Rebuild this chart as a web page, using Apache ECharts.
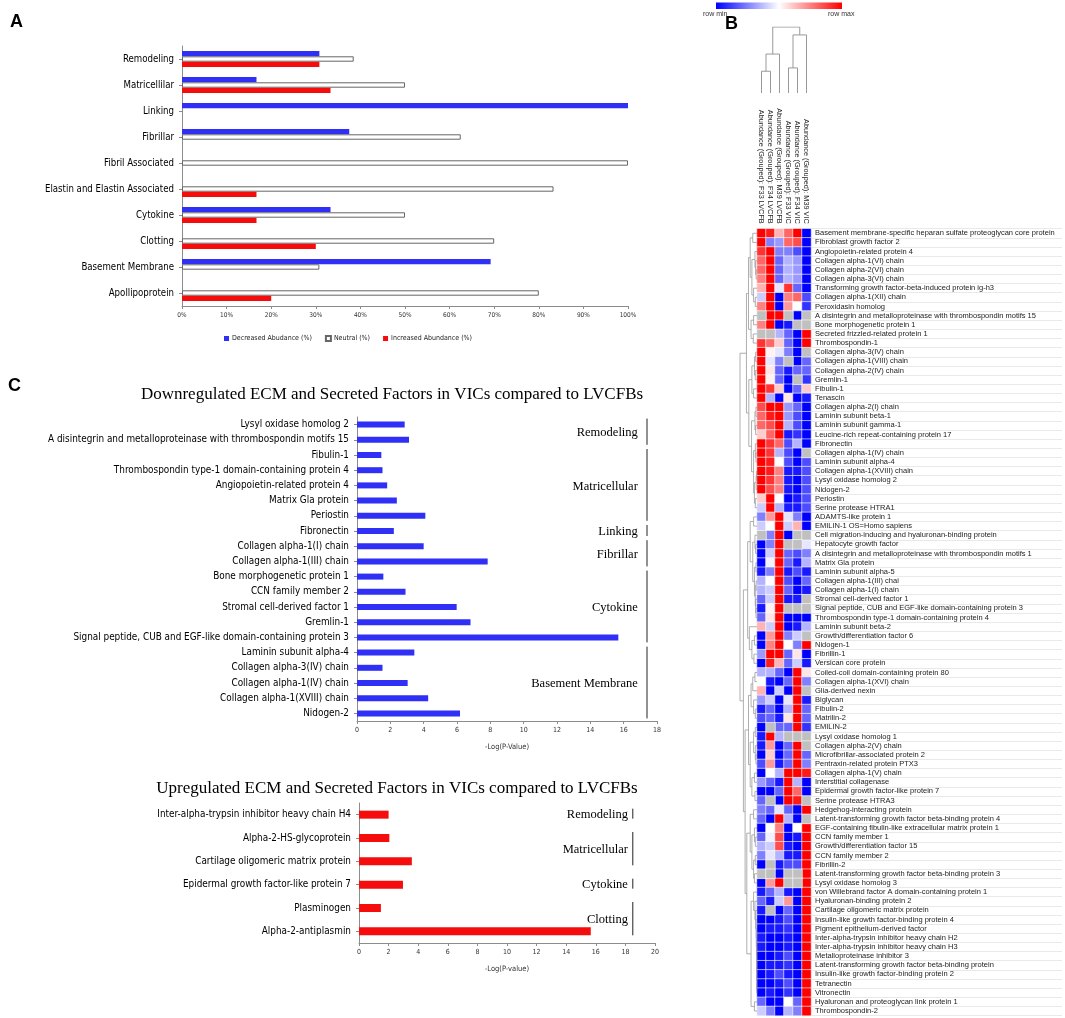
<!DOCTYPE html>
<html><head><meta charset="utf-8">
<script src="https://cdn.jsdelivr.net/npm/echarts/dist/echarts.min.js"></script>
<style>html,body{margin:0;padding:0;background:#fff}#c{width:1065px;height:1018px}</style>
</head><body><div id="c"></div>
<script>
// ---------- Panel A data ----------
const catA = ['Remodeling','Matricellilar','Linking','Fibrillar','Fibril Associated','Elastin and Elastin Associated','Cytokine','Clotting','Basement Membrane','Apollipoprotein'];
const decA = [30.8, 16.7, 100, 37.5, 0, 0, 33.3, 0, 69.2, 0];
const neuA = [38.5, 50, 0, 62.5, 100, 83.3, 50, 70, 30.8, 80];
const incA = [30.8, 33.3, 0, 0, 0, 16.7, 16.7, 30, 0, 20];
const legendA = ['Decreased Abudance (%)','Neutral (%)','Increased Abundance (%)'];

// ---------- Panel C data ----------
const downNames = ['Lysyl oxidase homolog 2','A disintegrin and metalloproteinase with thrombospondin motifs 15','Fibulin-1','Thrombospondin type-1 domain-containing protein 4','Angiopoietin-related protein 4','Matrix Gla protein','Periostin','Fibronectin','Collagen alpha-1(I) chain','Collagen alpha-1(III) chain','Bone morphogenetic protein 1','CCN family member 2','Stromal cell-derived factor 1','Gremlin-1','Signal peptide, CUB and EGF-like domain-containing protein 3','Laminin subunit alpha-4','Collagen alpha-3(IV) chain','Collagen alpha-1(IV) chain','Collagen alpha-1(XVIII) chain','Nidogen-2'];
const downVals = [2.86, 3.12, 1.46, 1.53, 1.81, 2.39, 4.10, 2.21, 4.00, 7.84, 1.58, 2.91, 5.98, 6.81, 15.68, 3.44, 1.53, 3.04, 4.27, 6.18];
const downGroups = ['Remodeling','Matricellular','Linking','Fibrillar','Cytokine','Basement Membrane'];
const downGroupFirst = [0, 2, 7, 8, 10, 15];
const downGroupLast = [1, 6, 7, 9, 14, 19];
const upNames = ['Inter-alpha-trypsin inhibitor heavy chain H4','Alpha-2-HS-glycoprotein','Cartilage oligomeric matrix protein','Epidermal growth factor-like protein 7','Plasminogen','Alpha-2-antiplasmin'];
const upVals = [2.0, 2.05, 3.57, 2.97, 1.48, 15.66];
const upGroups = ['Remodeling','Matricellular','Cytokine','Clotting'];
const upGroupFirst = [0, 1, 3, 4];
const upGroupLast = [0, 2, 3, 5];
const titleDown = 'Downregulated ECM and Secreted Factors in VICs compared to LVCFBs';
const titleUp = 'Upregulated ECM and Secreted Factors in VICs compared to LVCFBs';

// ---------- Panel B data ----------
const hmCols = ['Abundance (Grouped): F33 LVCFB','Abundance (Grouped): F34 LVCFB','Abundance (Grouped): M39 LVCFB','Abundance (Grouped): F33 VIC','Abundance (Grouped): F34 VIC','Abundance (Grouped): M39 VIC'];
const hmRows = ['Basement membrane-specific heparan sulfate proteoglycan core protein','Fibroblast growth factor 2','Angiopoietin-related protein 4','Collagen alpha-1(VI) chain','Collagen alpha-2(VI) chain','Collagen alpha-3(VI) chain','Transforming growth factor-beta-induced protein ig-h3','Collagen alpha-1(XII) chain','Peroxidasin homolog','A disintegrin and metalloproteinase with thrombospondin motifs 15','Bone morphogenetic protein 1','Secreted frizzled-related protein 1','Thrombospondin-1','Collagen alpha-3(IV) chain','Collagen alpha-1(VIII) chain','Collagen alpha-2(IV) chain','Gremlin-1','Fibulin-1','Tenascin','Collagen alpha-2(I) chain','Laminin subunit beta-1','Laminin subunit gamma-1','Leucine-rich repeat-containing protein 17','Fibronectin','Collagen alpha-1(IV) chain','Laminin subunit alpha-4','Collagen alpha-1(XVIII) chain','Lysyl oxidase homolog 2','Nidogen-2','Periostin','Serine protease HTRA1','ADAMTS-like protein 1','EMILIN-1 OS=Homo sapiens','Cell migration-inducing and hyaluronan-binding protein','Hepatocyte growth factor','A disintegrin and metalloproteinase with thrombospondin motifs 1','Matrix Gla protein','Laminin subunit alpha-5','Collagen alpha-1(III) chai','Collagen alpha-1(I) chain','Stromal cell-derived factor 1','Signal peptide, CUB and EGF-like domain-containing protein 3','Thrombospondin type-1 domain-containing protein 4','Laminin subunit beta-2','Growth/differentiation factor 6','Nidogen-1','Fibrillin-1','Versican core protein','Coiled-coil domain-containing protein 80','Collagen alpha-1(XVI) chain','Glia-derived nexin','Biglycan','Fibulin-2','Matrilin-2','EMILIN-2','Lysyl oxidase homolog 1','Collagen alpha-2(V) chain','Microfibrillar-associated protein 2','Pentraxin-related protein PTX3','Collagen alpha-1(V) chain','Interstitial collagenase','Epidermal growth factor-like protein 7','Serine protease HTRA3','Hedgehog-interacting protein','Latent-transforming growth factor beta-binding protein 4','EGF-containing fibulin-like extracellular matrix protein 1','CCN family member 1','Growth/differentiation factor 15','CCN family member 2','Fibrillin-2','Latent-transforming growth factor beta-binding protein 3','Lysyl oxidase homolog 3','von Willebrand factor A domain-containing protein 1','Hyaluronan-binding protein 2','Cartilage oligomeric matrix protein','Insulin-like growth factor-binding protein 4','Pigment epithelium-derived factor','Inter-alpha-trypsin inhibitor heavy chain H2','Inter-alpha-trypsin inhibitor heavy chain H3','Metalloproteinase inhibitor 3','Latent-transforming growth factor beta-binding protein','Insulin-like growth factor-binding protein 2','Tetranectin','Vitronectin','Hyaluronan and proteoglycan link protein 1','Thrombospondin-2'];
const hmVals = [
[1,0.9,0.3,0.6,1,-1],[1,-0.5,-0.4,0.6,0.7,-1],[0.8,1,-0.5,-0.5,-0.7,-1],[0.6,1,-0.6,-0.3,-0.4,-1],[0.6,1,-0.6,-0.3,-0.4,-1],
[0.5,1,-0.6,-0.3,-0.4,-1],[0.3,1,-0.1,0.8,-0.6,-1],[-0.2,1,-1,0.5,0.6,-0.7],[0.5,1,-1,0.4,0,-0.8],[null,1,1,null,-1,null],
[0.5,1,-1,-0.9,null,null],[null,null,-0.3,-0.6,-1,1],[0.8,0.6,0.2,-0.6,-1,1],[1,0.05,-0.1,-0.5,-1,null],[1,-0.1,-0.5,null,-1,-0.6],
[1,0.1,-0.6,-0.9,-0.6,-0.6],[1,0.05,-0.6,-1,null,-0.8],[1,0.8,0.2,-1,-0.6,0.2],[1,-0.3,-1,0.1,-1,-0.9],[0.7,1,1,-0.4,-0.6,-1],
[0.6,0.9,1,-0.4,-0.7,-1],[0.6,0.7,1,-0.3,-0.7,-1],[0.2,0.6,1,-0.9,-0.8,-1],[1,0.8,0.6,-0.7,-0.3,-1],[1,0.8,-0.3,-0.7,-1,null],
[1,0.9,0,-0.7,-1,-0.7],[1,0.9,0.5,-0.9,-0.9,-0.7],[1,0.8,0.5,-0.9,-1,-0.7],[1,0.7,0.5,-0.9,-1,-0.7],[0.2,1,0,-1,-0.9,-0.7],
[-0.2,1,-0.3,-0.9,-0.9,-0.7],[-0.5,0.4,1,-0.1,-0.5,-1],[-0.2,0,1,-0.2,0.3,-1],[null,-0.5,1,-1,null,null],[-1,-0.5,1,null,null,-0.1],
[-1,-0.2,1,-0.6,-0.7,-0.5],[-1,-0.05,1,-0.6,-0.9,-0.3],[-0.9,-0.5,1,-0.9,-0.7,-0.9],[-0.3,0,1,-0.7,-1,-0.6],[-0.3,-0.2,1,-0.6,-1,-0.9],
[-0.6,-0.2,1,-0.9,-0.9,null],[-0.9,0.05,1,null,null,null],[-0.6,0.1,1,-1,-1,-1],[0.3,-0.2,1,-1,-0.9,-0.3],[-1,0.4,1,-0.5,-0.2,null],
[-1,0.5,1,0,-0.5,1],[-0.4,1,1,-0.6,0.1,-1],[-1,0.9,0.3,-0.6,-0.2,-0.9],[-0.3,-0.3,-0.6,-1,1,0.1],[0,-0.9,-1,-0.6,1,-0.5],
[0.3,-1,-0.2,-1,1,null],[-0.4,-0.2,-1,-0.1,1,-0.9],[-0.9,-0.6,-1,-0.3,1,-0.6],[-0.7,-0.6,-0.9,0.1,1,-0.6],[-1,null,-0.6,-0.6,1,-0.8],
[-0.9,1,-0.3,null,null,null],[-0.9,0.4,-1,-0.6,1,null],[-1,0.2,-1,-0.6,1,-0.6],[-0.7,0.4,-0.9,-0.6,1,-0.5],[-1,0,-0.3,1,1,0.9],
[-0.4,-0.6,-0.9,1,-0.3,-1],[-1,-1,-0.6,1,0.6,-1],[-0.6,null,-1,1,0.9,null],[-0.5,-0.6,-0.1,-0.6,-1,1],[-0.6,-1,1,-0.3,-1,null],
[-1,0,0.5,-1,0,1],[-0.6,-0.05,0.7,-1,-0.9,1],[-0.3,-0.2,0.7,-0.9,-1,1],[-0.5,-0.1,-0.3,-0.9,-0.9,1],[-1,null,-0.9,-0.7,-0.7,1],
[null,null,-1,null,null,1],[-1,0.4,1,null,null,1],[-0.9,-0.6,-0.3,-0.9,-1,1],[-0.6,-0.9,-0.2,0.4,-1,1],[-0.9,null,-1,-0.6,-1,1],
[-1,-1,-0.9,-0.7,-1,1],[-1,-0.9,-0.9,-0.8,-1,1],[-0.9,-1,-1,-0.9,-1,1],[-0.9,-1,-1,-0.9,-1,1],[-1,-1,-0.9,-0.7,-1,1],
[-1,-0.9,-0.9,-0.8,-1,1],[-1,-0.9,-0.7,-0.9,-1,1],[-1,-1,-0.9,-0.7,-1,1],[-1,-0.9,-1,-0.8,-1,1],[-0.6,-1,-1,0,-0.6,1],
[-0.2,-0.5,-1,-0.3,-0.5,1]
];
// dendrograms: [mergeHeight, left, right]; leaves are row/column indices
const colTree = [1.0, [0.59, [0.33, 0, 1], 2], [0.88, [0.38, 3, 4], 5]];
const rowTree =
[1.0,
 [0.62,
   [0.5,
     [0.4, [0.25, 0, 1], [0.3, [0.12, 2, [0.08, 3, [0.05, 4, 5]]], [0.2, 6, [0.1, 7, 8]]]],
     [0.35, [0.2, 9, 10], [0.22, 11, 12]]],
   [0.48,
     [0.3, [0.15, [0.08, 13, 14], [0.1, 15, 16]], [0.2, 17, 18]],
     [0.32, [0.12, [0.06, 19, 20], [0.08, 21, 22]], [0.2, [0.1, 23, [0.06, 24, 25]], [0.15, [0.05, [0.03, 26, 27], 28], [0.1, 29, 30]]]]]],
 [0.8,
   [0.55,
     [0.4, [0.2, 31, 32], [0.25, [0.12, 33, [0.08, 34, 35]], [0.15, [0.06, 36, 37], [0.1, [0.05, 38, 39], [0.08, 40, [0.06, 41, 42]]]]]],
     [0.45, 43, [0.3, [0.15, 44, 45], [0.18, 46, 47]]]],
   [0.7,
     [0.5,
       [0.35, [0.25, [0.12, 48, 49], 50], [0.2, 51, [0.1, 52, 53]]],
       [0.4, [0.2, [0.1, 54, 55], [0.1, 56, [0.06, 57, 58]]], [0.3, [0.15, 59, 60], [0.12, 61, 62]]]],
     [0.6,
       [0.4, [0.2, 63, 64], [0.3, [0.15, 65, [0.1, 66, 67]], [0.2, [0.1, 68, 69], [0.15, 70, 71]]]],
       [0.35, [0.2, 72, [0.12, 73, [0.08, 74, [0.05, 75, [0.04, 76, [0.03, 77, [0.02, 78, [0.02, 79, [0.02, 80, [0.02, 81, [0.02, 82, 83]]]]]]]]]]], [0.15, 84, 85]]]]]];

// ---------- helpers ----------
const NARROW = "'Liberation Sans Narrow','DejaVu Sans Condensed',sans-serif";
const SANS = "'Liberation Sans',Arial,sans-serif";
const SERIF = "'Liberation Serif','Times New Roman',serif";
const BLUE = '#2f2ff5', RED = '#f50c0c';
const nz = a => a.map(v => v === 0 ? null : v);
function dendroSegs(tree, isRow) {
  const segs = [];
  (function walk(n) {
    if (typeof n === 'number') return {p: n, h: 0};
    const a = walk(n[1]), b = walk(n[2]), h = n[0];
    const pts = [[a.h, a.p], [h, a.p], [h, b.p], [b.h, b.p]];
    segs.push({coords: isRow ? pts : pts.map(q => [q[1], q[0]])});
    return {p: (a.p + b.p) / 2, h: h};
  })(tree);
  return segs;
}
const hmData = [], hmMissing = [];
hmVals.forEach((row, r) => row.forEach((v, c) => {
  if (v === null) hmMissing.push([c, r, 0]); else hmData.push([c, r, v]);
}));

const chart = echarts.init(document.getElementById('c'), null, {renderer: 'canvas'});
const noGrid = {outerBoundsMode: 'none', containLabel: false};
const catAxisBase = {type: 'category', inverse: true,
  axisLine: {show: true, lineStyle: {color: '#8c8c8c', width: 1}},
  axisTick: {show: true, alignWithLabel: true, length: 3, lineStyle: {color: '#8c8c8c'}},
  splitLine: {show: false}};

const option = {
  animation: false,
  backgroundColor: '#fff',
  title: [
    {text: titleDown, left: 387, top: 381, textAlign: 'center', textStyle: {fontFamily: SERIF, fontSize: 17, fontWeight: 'normal', color: '#000'}},
    {text: titleUp, left: 392, top: 775, textAlign: 'center', textStyle: {fontFamily: SERIF, fontSize: 17, fontWeight: 'normal', color: '#000'}}
  ],
  legend: {data: legendA, left: 219, top: 330, itemWidth: 5, itemHeight: 5, itemGap: 13, icon: 'rect',
    textStyle: {fontSize: 7, fontFamily: NARROW, color: '#222', padding: [0, 0, 0, -2]}},
  grid: [
    Object.assign({left: 182, top: 46, width: 446, height: 260}, noGrid),
    Object.assign({left: 357, top: 417, width: 300, height: 304}, noGrid),
    Object.assign({left: 359, top: 803, width: 296, height: 140}, noGrid),
    Object.assign({left: 757, top: 228.7, width: 54, height: 786.9}, noGrid),
    Object.assign({left: 812, top: 228.7, width: 250, height: 786.9}, noGrid),
    Object.assign({left: 740, top: 228.7, width: 17, height: 786.9}, noGrid),
    Object.assign({left: 757, top: 27, width: 54, height: 66}, noGrid)
  ],
  xAxis: [
    {gridIndex: 0, type: 'value', min: 0, max: 100, interval: 10,
      axisLine: {show: true, lineStyle: {color: '#8c8c8c'}}, axisTick: {show: true, length: 3, lineStyle: {color: '#8c8c8c'}},
      splitLine: {show: false}, axisLabel: {formatter: '{value}%', fontSize: 6.5, fontFamily: NARROW, color: '#333', margin: 6}},
    {gridIndex: 1, type: 'value', min: 0, max: 18, interval: 2,
      axisLine: {show: true, lineStyle: {color: '#8c8c8c'}}, axisTick: {show: true, length: 3, lineStyle: {color: '#8c8c8c'}},
      splitLine: {show: false}, axisLabel: {fontSize: 7, fontFamily: NARROW, color: '#333', margin: 6},
      name: '-Log(P-Value)', nameLocation: 'middle', nameGap: 22, nameTextStyle: {fontSize: 7.5, fontFamily: NARROW, color: '#333'}},
    {gridIndex: 2, type: 'value', min: 0, max: 20, interval: 2,
      axisLine: {show: true, lineStyle: {color: '#8c8c8c'}}, axisTick: {show: true, length: 3, lineStyle: {color: '#8c8c8c'}},
      splitLine: {show: false}, axisLabel: {fontSize: 7, fontFamily: NARROW, color: '#333', margin: 6},
      name: '-Log(P-value)', nameLocation: 'middle', nameGap: 22, nameTextStyle: {fontSize: 7.5, fontFamily: NARROW, color: '#333'}},
    {gridIndex: 3, type: 'category', data: hmCols, position: 'top',
      axisLine: {show: false}, axisTick: {show: false}, splitLine: {show: false},
      axisLabel: {rotate: 90, interval: 0, fontSize: 7.3, fontFamily: SANS, color: '#222', margin: 5}},
    {gridIndex: 4, type: 'value', show: false, min: 0, max: 1},
    {gridIndex: 5, type: 'value', show: false, min: 0, max: 1, inverse: true},
    {gridIndex: 6, type: 'value', show: false, min: -0.5, max: 5.5}
  ],
  yAxis: [
    Object.assign({gridIndex: 0, data: catA, axisLabel: {interval: 0, fontSize: 9.6, fontFamily: NARROW, color: '#000', margin: 8}}, catAxisBase),
    Object.assign({gridIndex: 1, data: downNames, axisLabel: {interval: 0, fontSize: 9.9, fontFamily: NARROW, color: '#000', margin: 8}}, catAxisBase),
    Object.assign({gridIndex: 2, data: upNames, axisLabel: {interval: 0, fontSize: 9.9, fontFamily: NARROW, color: '#000', margin: 8}}, catAxisBase),
    {gridIndex: 3, type: 'category', data: hmRows, inverse: true, axisLine: {show: false}, axisTick: {show: false}, axisLabel: {show: false}, splitLine: {show: false}},
    {gridIndex: 4, type: 'category', data: hmRows, inverse: true, axisLine: {show: false}, axisTick: {show: false},
      axisLabel: {inside: true, interval: 0, fontSize: 7.5, fontFamily: SANS, color: '#222', margin: 3},
      splitLine: {show: true, interval: 0, lineStyle: {color: '#e3e3e3', width: 0.8}}},
    {gridIndex: 5, type: 'value', show: false, min: -0.5, max: 85.5, inverse: true},
    {gridIndex: 6, type: 'value', show: false, min: 0, max: 1}
  ],
  visualMap: {type: 'continuous', show: false, min: -1, max: 1, seriesIndex: 5, inRange: {color: ['#0000ff', '#ffffff', '#ff0000']}},
  series: [
    {name: legendA[0], type: 'bar', xAxisIndex: 0, yAxisIndex: 0, data: nz(decA), barWidth: 5.4, barGap: '0%', itemStyle: {color: BLUE}},
    {name: legendA[1], type: 'bar', xAxisIndex: 0, yAxisIndex: 0, data: nz(neuA), barWidth: 5.4, barGap: '0%', itemStyle: {color: '#fff', borderColor: '#666', borderWidth: 1}},
    {name: legendA[2], type: 'bar', xAxisIndex: 0, yAxisIndex: 0, data: nz(incA), barWidth: 5.4, barGap: '0%', itemStyle: {color: RED}},
    {type: 'bar', xAxisIndex: 1, yAxisIndex: 1, data: downVals, barWidth: 6, itemStyle: {color: BLUE}},
    {type: 'bar', xAxisIndex: 2, yAxisIndex: 2, data: upVals, barWidth: 8, itemStyle: {color: RED}},
    {type: 'heatmap', xAxisIndex: 3, yAxisIndex: 3, data: hmData, itemStyle: {borderColor: '#fff', borderWidth: 0.6}},
    {type: 'heatmap', xAxisIndex: 3, yAxisIndex: 3, data: hmMissing, itemStyle: {color: '#c0c0c0', borderColor: '#fff', borderWidth: 0.6}},
    {type: 'scatter', xAxisIndex: 4, yAxisIndex: 4, data: [], silent: true},
    {type: 'lines', coordinateSystem: 'cartesian2d', xAxisIndex: 5, yAxisIndex: 5, polyline: true, silent: true,
      data: dendroSegs(rowTree, true), lineStyle: {color: '#9a9a9a', width: 0.8, opacity: 1}},
    {type: 'lines', coordinateSystem: 'cartesian2d', xAxisIndex: 6, yAxisIndex: 6, polyline: true, silent: true,
      data: dendroSegs(colTree, false), lineStyle: {color: '#999', width: 1, opacity: 1}}
  ]
};
chart.setOption(option);

// annotations placed through the bar charts' own axes
const annotX = {down: {text: 16.85, line: 17.4}, up: {text: 18.17, line: 18.5}};
const gfx = [];
function addGroups(grid, names, first, last, ax, dTop, dBot, dText) {
  names.forEach((nm, i) => {
    const t1 = chart.convertToPixel({gridIndex: grid}, [ax.text, first[i]]);
    const t2 = chart.convertToPixel({gridIndex: grid}, [ax.text, last[i]]);
    const l1 = chart.convertToPixel({gridIndex: grid}, [ax.line, first[i]]);
    const l2 = chart.convertToPixel({gridIndex: grid}, [ax.line, last[i]]);
    gfx.push({type: 'text', x: t1[0], y: (t1[1] + t2[1]) / 2 + dText, style: {text: nm, font: "12.5px " + SERIF, fill: '#000', align: 'right', verticalAlign: 'middle', textAlign: 'right', textVerticalAlign: 'middle'}});
    gfx.push({type: 'line', shape: {x1: l1[0], y1: l1[1] - dTop, x2: l2[0], y2: l2[1] + dBot}, style: {stroke: '#222', lineWidth: 1}});
  });
}
addGroups(1, downGroups, downGroupFirst, downGroupLast, annotX.down, 6, 5, 1);
addGroups(2, upGroups, upGroupFirst, upGroupLast, annotX.up, 6, 4, 0);
// panel letters
gfx.push({type: 'text', x: 10, y: 13, style: {text: 'A', font: "bold 18px " + SANS, fill: '#000'}});
gfx.push({type: 'text', x: 725, y: 15, style: {text: 'B', font: "bold 18px " + SANS, fill: '#000'}});
gfx.push({type: 'text', x: 8, y: 377, style: {text: 'C', font: "bold 18px " + SANS, fill: '#000'}});
// colour key
gfx.push({type: 'rect', shape: {x: 716, y: 2.5, width: 126, height: 6.5},
  style: {fill: new echarts.graphic.LinearGradient(0, 0, 1, 0, [{offset: 0, color: '#0000ff'}, {offset: 0.5, color: '#ffffff'}, {offset: 1, color: '#ff0000'}])}});
gfx.push({type: 'text', x: 703, y: 11, style: {text: 'row min', font: "7px " + SANS, fill: '#333'}});
gfx.push({type: 'text', x: 828, y: 11, style: {text: 'row max', font: "7px " + SANS, fill: '#333'}});
chart.setOption({graphic: gfx});
</script></body></html>
